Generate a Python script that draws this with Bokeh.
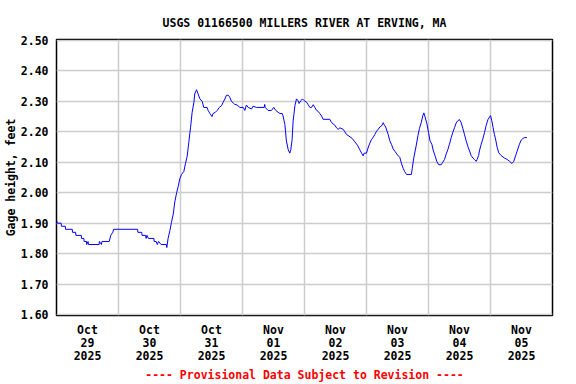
from bokeh.plotting import figure
from bokeh.models import Range1d, FixedTicker, NumeralTickFormatter, Title
from bokeh.embed import file_html
from bokeh.resources import INLINE

# hours since 2025-10-29 00:00
hours = [0, 0.3, 1.8, 1.9, 3.4, 3.5, 6.1, 6.2, 7.4, 7.5, 9.6, 9.7, 10.6, 10.7, 11.6, 11.7,
         12.2, 12.4, 16.5, 16.6, 17.4, 17.6, 20.4, 21.0, 21.8, 22.1, 31.4, 31.5, 33.0, 33.1,
         34.5, 34.7, 35.0, 35.6, 37.7, 37.8, 38.6, 39.0, 39.5, 40.5, 42.5, 42.7, 43.2, 43.9,
         44.5, 45.2, 45.8, 46.5, 47.1, 47.7, 48.4, 49.3, 49.9, 50.6, 51.2, 51.9, 52.5, 53.2,
         53.5, 54.2, 54.7, 55.5, 56.4, 57.0, 58.3, 58.7, 59.4, 60.2, 60.6, 61.5, 62.2, 63.0,
         63.9, 64.5, 65.2, 65.8, 66.5, 67.1, 67.7, 68.4, 69.0, 69.9, 71.0, 72.3, 72.9, 73.5,
         74.2, 75.5, 76.1, 77.4, 80.4, 80.6, 80.8, 81.9, 83.2, 84.1, 84.9, 85.8, 86.5, 87.4,
         87.7, 88.4, 89.0, 89.7, 90.3, 90.7, 91.2, 91.6, 92.3, 92.9, 93.5, 93.9, 94.6, 95.2,
         95.9, 96.8, 97.4, 98.1, 98.7, 99.4, 100.0, 100.6, 101.3, 101.9, 102.6, 103.2, 105.8,
         106.5, 107.7, 108.4, 109.0, 109.7, 111.0, 111.6, 112.3, 113.2, 114.5, 115.5, 116.5,
         117.4, 118.1, 118.7, 119.1, 120.0, 120.6, 121.3, 121.9, 122.6, 123.2, 123.9, 124.5,
         125.2, 125.8, 126.5, 126.8, 127.4, 128.4, 129.0, 129.7, 130.3, 131.0, 132.0, 132.9,
         133.5, 134.2, 134.8, 135.5, 137.4, 137.7, 138.3, 139.2, 139.9, 140.5, 141.2, 141.8,
         142.2, 142.7, 143.4, 144.0, 144.6, 145.3, 145.9, 146.6, 147.2, 147.9, 148.9, 149.5,
         150.2, 150.8, 151.5, 152.1, 152.8, 153.4, 154.1, 154.7, 155.4, 156.0, 156.6, 157.3,
         157.9, 158.6, 159.2, 159.9, 160.5, 161.2, 161.8, 162.5, 162.8, 163.4, 163.7, 164.4,
         165.0, 165.7, 166.3, 167.0, 167.6, 168.0, 168.5, 169.0, 169.5, 170.1, 170.6, 171.2,
         172.1, 173.4, 174.5, 175.4, 176.3, 177.0, 177.9, 178.6, 179.2, 179.9, 180.5, 181.2,
         182.1]

gage_ft = [1.91, 1.90, 1.90, 1.89, 1.89, 1.88, 1.88, 1.87, 1.87, 1.86, 1.86, 1.85, 1.85, 1.84, 1.84, 1.83,
           1.84, 1.83, 1.83, 1.84, 1.83, 1.84, 1.84, 1.86, 1.87, 1.88, 1.88, 1.87, 1.87, 1.86,
           1.86, 1.85, 1.86, 1.85, 1.85, 1.84, 1.84, 1.83, 1.84, 1.83, 1.83, 1.82, 1.85, 1.876,
           1.903, 1.93, 1.97, 2.00, 2.02, 2.045, 2.06, 2.07, 2.095, 2.12, 2.165, 2.215, 2.264, 2.297,
           2.324, 2.338, 2.327, 2.308, 2.30, 2.28, 2.28, 2.27, 2.26, 2.25, 2.26, 2.264, 2.27, 2.28,
           2.286, 2.297, 2.308, 2.32, 2.32, 2.313, 2.30, 2.295, 2.29, 2.288, 2.28, 2.28, 2.27, 2.288,
           2.28, 2.275, 2.284, 2.28, 2.28, 2.29, 2.28, 2.27, 2.27, 2.28, 2.27, 2.264, 2.26, 2.26,
           2.252, 2.224, 2.17, 2.141, 2.13, 2.141, 2.174, 2.236, 2.286, 2.308, 2.302, 2.293, 2.302, 2.308,
           2.302, 2.297, 2.289, 2.28, 2.28, 2.289, 2.28, 2.271, 2.267, 2.26, 2.252, 2.241, 2.241,
           2.23, 2.222, 2.213, 2.208, 2.213, 2.208, 2.20, 2.191, 2.186, 2.178, 2.167, 2.156,
           2.141, 2.13, 2.121, 2.13, 2.13, 2.147, 2.163, 2.174, 2.182, 2.191, 2.202, 2.208,
           2.216, 2.219, 2.23, 2.224, 2.216, 2.191, 2.171, 2.158, 2.144, 2.136, 2.124, 2.116,
           2.097, 2.08, 2.069, 2.06, 2.06, 2.08, 2.114, 2.153, 2.187, 2.211, 2.231, 2.253,
           2.262, 2.248, 2.226, 2.198, 2.17, 2.159, 2.137, 2.12, 2.103, 2.092, 2.092, 2.10,
           2.109, 2.126, 2.142, 2.159, 2.181, 2.198, 2.214, 2.229, 2.237, 2.24, 2.231, 2.211,
           2.192, 2.17, 2.153, 2.137, 2.122, 2.114, 2.109, 2.103, 2.109, 2.122, 2.137, 2.159,
           2.176, 2.198, 2.22, 2.24, 2.248, 2.253, 2.237, 2.214, 2.192, 2.17, 2.148, 2.131,
           2.122, 2.114, 2.109, 2.103, 2.096, 2.103, 2.126, 2.144, 2.159, 2.173, 2.178, 2.181,
           2.181]

day_label_hours = [12, 36, 60, 84, 108, 132, 156, 180]
day_labels = ["Oct\n29\n2025", "Oct\n30\n2025", "Oct\n31\n2025", "Nov\n01\n2025",
              "Nov\n02\n2025", "Nov\n03\n2025", "Nov\n04\n2025", "Nov\n05\n2025"]
midnight_hours = [24, 48, 72, 96, 120, 144, 168]
y_ticks = [1.6, 1.7, 1.8, 1.9, 2.0, 2.1, 2.2, 2.3, 2.4, 2.5]

FONT = "DejaVu Sans Mono"
FS = "11.5px"

p = figure(frame_width=496, frame_height=276, output_backend="svg", toolbar_location=None,
           x_range=Range1d(0, 192), y_range=Range1d(1.597, 2.503),
           min_border_left=53, min_border_right=13, min_border_top=39, min_border_bottom=60)

p.title = Title(text="USGS 01166500 MILLERS RIVER AT ERVING, MA", align="center",
                text_font=FONT, text_font_size=FS, text_font_style="bold", text_color="black",
                standoff=19)

p.line(hours, gage_ft, line_color="#0000ff", line_width=1)

p.outline_line_color = "black"
p.outline_line_width = 1.5
p.background_fill_color = "white"
p.border_fill_color = "white"

# x axis
xa = p.xaxis[0]
xa.ticker = FixedTicker(ticks=day_label_hours)
xa.major_label_overrides = {h: lab for h, lab in zip(day_label_hours, day_labels)}
xa.major_tick_line_color = None
xa.minor_tick_line_color = None
xa.axis_line_color = None
xa.major_tick_out = 0
xa.major_tick_in = 0
xa.major_label_standoff = 7
xa.major_label_text_font = FONT
xa.major_label_text_font_size = FS
xa.major_label_text_font_style = "bold"
xa.major_label_text_color = "black"
xa.major_label_text_line_height = 0.93
xa.axis_label = "---- Provisional Data Subject to Revision ----"
xa.axis_label_text_font = FONT
xa.axis_label_text_font_size = FS
xa.axis_label_text_font_style = "bold"
xa.axis_label_text_color = "red"
xa.axis_label_standoff = 2

# y axis
ya = p.yaxis[0]
ya.ticker = FixedTicker(ticks=y_ticks)
ya.formatter = NumeralTickFormatter(format="0.00")
ya.major_tick_line_color = None
ya.minor_tick_line_color = None
ya.axis_line_color = None
ya.major_tick_out = 0
ya.major_tick_in = 0
ya.major_label_standoff = 8
ya.major_label_text_font = FONT
ya.major_label_text_font_size = FS
ya.major_label_text_font_style = "bold"
ya.major_label_text_color = "black"
ya.axis_label = "Gage height, feet"
ya.axis_label_text_font = FONT
ya.axis_label_text_font_size = FS
ya.axis_label_text_font_style = "bold"
ya.axis_label_text_color = "black"
ya.axis_label_standoff = 0

p.xgrid.ticker = FixedTicker(ticks=midnight_hours)
p.ygrid.ticker = FixedTicker(ticks=y_ticks)
p.xgrid.grid_line_color = "#cccccc"
p.ygrid.grid_line_color = "#cccccc"
p.xgrid.grid_line_width = 1.5
p.ygrid.grid_line_width = 1.5

open("out.html", "w").write(file_html(p, INLINE))
